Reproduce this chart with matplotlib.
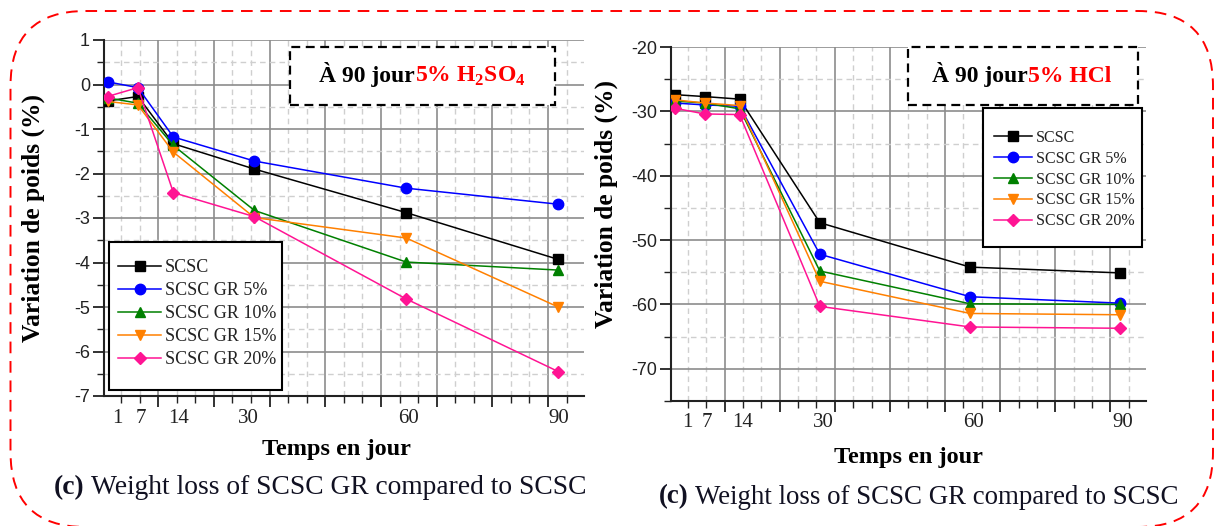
import matplotlib
matplotlib.use("Agg")
import matplotlib.pyplot as plt
import matplotlib.patches as patches
from matplotlib.ticker import MultipleLocator
from matplotlib.transforms import IdentityTransform

plt.rcParams['font.family'] = 'Liberation Sans'
plt.rcParams['axes.unicode_minus'] = False
plt.rcParams['mathtext.fontset'] = 'custom'
plt.rcParams['mathtext.bf'] = 'Liberation Serif:bold'
plt.rcParams['mathtext.rm'] = 'Liberation Serif'

# temps (jours)
jours = [1, 7, 14, 30, 60, 90]
noms = ["SCSC", "SCSC GR 5%", "SCSC GR 10%", "SCSC GR 15%", "SCSC GR 20%"]

# variation de poids (%) - 5% H2SO4
h2so4_scsc = [-0.37, -0.27, -1.33, -1.90, -2.88, -3.93]
h2so4_gr5 = [0.06, -0.07, -1.18, -1.72, -2.33, -2.69]
h2so4_gr10 = [-0.30, -0.42, -1.37, -2.83, -3.99, -4.17]
h2so4_gr15 = [-0.38, -0.46, -1.52, -2.99, -3.45, -5.00]
h2so4_gr20 = [-0.27, -0.07, -2.43, -2.97, -4.82, -6.45]

# variation de poids (%) - 5% HCl
hcl_scsc = [-27.4, -27.7, -28.1, -47.3, -54.2, -55.1]
hcl_gr5 = [-28.7, -29.0, -29.2, -52.2, -58.8, -59.8]
hcl_gr10 = [-28.4, -28.7, -29.6, -54.8, -59.9, -60.0]
hcl_gr15 = [-28.2, -28.7, -29.1, -56.4, -61.4, -61.6]
hcl_gr20 = [-29.5, -30.4, -30.5, -60.3, -63.5, -63.7]

# etiquettes de l'axe x
xlab_txt = ["1", "7", "14", "30", "60", "90"]
xlab_pos_g = [2.9, 7.6, 15.0, 28.8, 60.5, 90.1]
xlab_pos_d = [3.5, 7.4, 14.5, 30.8, 60.6, 90.4]

couleurs = ["#000000", "#0000ff", "#008000", "#ff8000", "#ff1493"]
marqueurs = ["s", "o", "^", "v", "D"]
tailles = [7, 7.5, 7.5, 7.5, 6.5]

W, H = 1216, 526
fig = plt.figure(figsize=(W / 100, H / 100), dpi=100)


def px(x0, y0, x1, y1):
    # pixels (haut-gauche) -> fraction de figure
    return [x0 / W, 1 - y1 / H, (x1 - x0) / W, (y1 - y0) / H]


def panneau(rect, series, ylim, ymaj, ymin, xpos, yfs):
    ax = fig.add_axes(rect)
    lignes = []
    for s, c, m, ms, n in zip(series, couleurs, marqueurs, tailles, noms):
        l, = ax.plot(jours, s, color=c, marker=m, ms=ms, lw=1.1, label=n, zorder=3)
        lignes.append(l)
    ax.set_xlim(0.3, 95.1)
    ax.set_ylim(*ylim)
    ax.xaxis.set_major_locator(MultipleLocator(11))
    ax.xaxis.set_minor_locator(MultipleLocator(11 / 3))
    ax.yaxis.set_major_locator(MultipleLocator(ymaj))
    ax.yaxis.set_minor_locator(MultipleLocator(ymin))
    ax.grid(which="major", color="#8c8c8c", lw=1.2, ls="-", zorder=0)
    ax.grid(which="minor", color="#cfcfcf", lw=1.0, ls=(0, (4, 3)), zorder=0)
    # pas de ligne de grille sur le bord haut
    for tk in ax.yaxis.get_major_ticks():
        if abs(tk.get_loc() - ylim[1]) < 1e-9:
            tk.gridline.set_visible(False)
    for sp in ["top", "right"]:
        ax.spines[sp].set_visible(False)
    for sp in ["left", "bottom"]:
        ax.spines[sp].set_linewidth(1.5)
        ax.spines[sp].set_color("#222222")
    ax.tick_params(which="major", direction="out", length=8, width=1.3, color="#222222")
    ax.tick_params(which="minor", direction="out", length=5, width=1.0, color="#222222")
    ax.tick_params(axis="x", labelbottom=False)
    ax.tick_params(axis="y", labelsize=yfs, labelcolor="#222222", pad=2)
    for t, p in zip(xlab_txt, xpos):
        ax.text(p, -0.062, t, transform=ax.get_xaxis_transform(), ha="center", va="center",
                fontsize=15, family="Liberation Serif", color="#222222")
    return ax, lignes


def boite(ax, r, fs, ancre, hauteur, pas):
    # cadre de la legende
    ax.add_patch(patches.Rectangle((r[0], r[1]), r[2] - r[0], r[3] - r[1], transform=fig.transFigure,
                                   fc="white", ec="black", lw=1.5, zorder=4.5))
    leg = ax.legend(loc="upper left", bbox_to_anchor=ancre, bbox_transform=fig.transFigure,
                    frameon=False, prop={"family": "Liberation Serif", "size": fs},
                    handlelength=hauteur, handletextpad=0.2, labelspacing=pas, borderpad=0,
                    borderaxespad=0)
    leg.set_zorder(5)
    for t in leg.get_texts():
        t.set_color("#222222")
    return leg


# ---------- H2SO4 ----------
axg, _ = panneau(px(104, 40, 584, 396),
                 [h2so4_scsc, h2so4_gr5, h2so4_gr10, h2so4_gr15, h2so4_gr20],
                 (-7, 1), 1, 0.5, xlab_pos_g, 13)
boite(axg, [108.5 / W, 1 - 390 / H, 282 / W, 1 - 242 / H], 13, (118 / W, 1 - 259 / H), 2.4, 0.33)

# ---------- HCl ----------
axd, _ = panneau(px(671, 47, 1146, 401),
                 [hcl_scsc, hcl_gr5, hcl_gr10, hcl_gr15, hcl_gr20],
                 (-75, -20), 10, 5, xlab_pos_d, 13)
boite(axd, [983 / W, 1 - 247 / H, 1142 / W, 1 - 108 / H], 11.5, (994 / W, 1 - 130 / H), 2.4, 0.3)

# cadres pointilles "A 90 jour"
for x0, y0, x1, y1 in [(290, 47, 555, 105), (908, 47, 1138, 105)]:
    fig.add_artist(patches.Rectangle((x0 / W, 1 - y1 / H), (x1 - x0) / W, (y1 - y0) / H,
                                     transform=fig.transFigure, fc="white", ec="black",
                                     lw=1.6, ls=(0, (4, 2.5)), zorder=6))

rend = fig.canvas.get_renderer()
for xs, acide in [(319, r"5% H$_\mathbf{2}$SO$_\mathbf{4}$"), (932, "5% HCl")]:
    t1 = fig.text(xs / W, 1 - 82 / H, "À 90 jour", fontsize=17, fontweight="bold",
                  family="Liberation Serif", va="baseline", ha="left", zorder=7)
    bb = t1.get_window_extent(rend)
    fig.text(bb.x1 / W, 1 - 82 / H, acide, fontsize=17, fontweight="bold", color="red",
             family="Liberation Serif", va="baseline", ha="left", zorder=7)

# titres des axes
for xc, yc in [(33, 218), (606, 204)]:
    fig.text(xc / W, 1 - yc / H, "Variation de poids (%)", rotation=90, fontsize=18.4,
             fontweight="bold", family="Liberation Serif", ha="center", va="center")
for xc, yc in [(336, 450), (908, 458)]:
    fig.text(xc / W, 1 - yc / H, "Temps en jour", fontsize=17.5, fontweight="bold",
             family="Liberation Serif", ha="center", va="center")

# legendes (c)
for xs, yc, fs in [(54, 488, 19.8), (659, 497, 19.4)]:
    tc = fig.text(xs / W, 1 - yc / H, "(c)", fontsize=fs, fontweight="bold",
                  family="Liberation Serif", ha="left", va="center", color="#111122")
    bb = tc.get_window_extent(rend)
    fig.text(bb.x1 / W + 6 / W, 1 - yc / H, "Weight loss of SCSC GR compared to SCSC", fontsize=fs,
             family="Liberation Serif", ha="left", va="center", color="#111122")

# cadre rouge arrondi
cadre = patches.FancyBboxPatch((10.5, H - 527), 1213 - 10.5, 527 - 11,
                               boxstyle="round,pad=0,rounding_size=75",
                               transform=IdentityTransform(), fill=False, ec="red",
                               lw=1.4, ls=(0, (6, 4)))
fig.add_artist(cadre)

fig.savefig("out.png", dpi=100)
